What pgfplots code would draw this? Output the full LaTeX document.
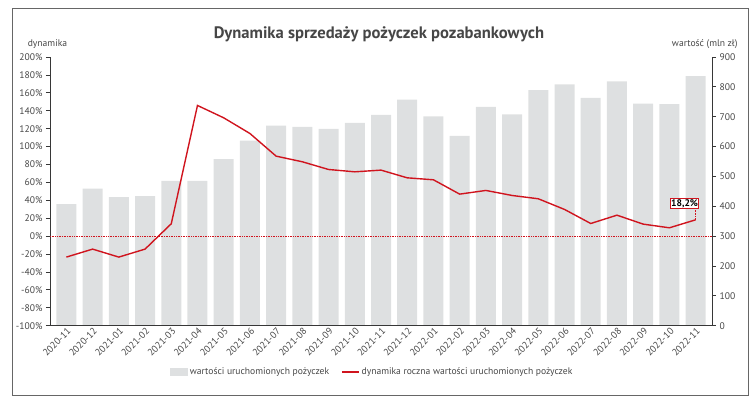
\documentclass[border=0pt]{standalone}
\usepackage{fontspec}
\setmainfont{PT Sans}
\usepackage{pgfplots}
\pgfplotsset{compat=1.18}
\definecolor{barc}{RGB}{222,224,225}
\definecolor{redl}{RGB}{208,20,30}
\definecolor{txt}{RGB}{70,70,70}
\definecolor{axc}{RGB}{55,55,55}
\newcommand{\tickfont}{\fontsize{9.6}{11}\selectfont}
\begin{document}
\begin{tikzpicture}[x=1pt,y=1pt]
\path[use as bounding box] (0,0) rectangle (756,406);
\draw[gray!80!black, line width=0.9pt] (12,10.3) rectangle (748,398);
\node[font=\bfseries\fontsize{16.6}{19}\selectfont, text=txt] at (379,372) {Dynamika sprzedaży pożyczek pozabankowych};
\node[font=\tickfont, text=txt] at (47.5,362) {dynamika};
\node[font=\tickfont, text=txt, anchor=east] at (741,362) {wartość (mln zł)};

\begin{axis}[
  at={(50pt,80.3pt)}, anchor=south west,
  scale only axis, width=662pt, height=268.7pt,
  xmin=-0.625, xmax=24.625, ymin=0, ymax=900,
  axis x line=none, axis y line*=right,
  ytick={0,100,...,900},
  yticklabel={\pgfmathprintnumber[assume math mode=true]{\tick}},
  yticklabel style={font=\tickfont, text=txt},
  y axis line style={axc, line width=0.8pt},
  ytick style={axc, line width=0.8pt},
  major tick length=4pt, tick align=outside,
]
\addplot[ybar, bar width=20pt, bar shift=0pt, fill=barc, draw=none] coordinates {
(0,407) (1,459) (2,431) (3,434) (4,485) (5,485) (6,558) (7,620) (8,670) (9,666)
(10,659) (11,679) (12,706) (13,757) (14,701) (15,636) (16,733) (17,708) (18,789)
(19,808) (20,763) (21,818) (22,744) (23,742) (24,836)};
\end{axis}

\begin{axis}[
  at={(50pt,80.3pt)}, anchor=south west,
  scale only axis, width=662pt, height=268.7pt,
  xmin=-0.625, xmax=24.625, ymin=-100, ymax=200,
  axis y line*=left, axis x line*=bottom,
  ytick={-100,-80,...,200},
  yticklabel={\pgfmathprintnumber[assume math mode=true]{\tick}\%},
  yticklabel style={font=\tickfont, text=txt},
  xtick={0,...,24},
  xticklabels={2020-11,2020-12,2021-01,2021-02,2021-03,2021-04,2021-05,2021-06,2021-07,2021-08,2021-09,2021-10,2021-11,2021-12,2022-01,2022-02,2022-03,2022-04,2022-05,2022-06,2022-07,2022-08,2022-09,2022-10,2022-11},
  xticklabel style={font=\tickfont, text=txt, rotate=45, anchor=east, xshift=3pt, yshift=-2pt, inner sep=1pt},
  xtick style={draw=none},
  axis line style={axc, line width=0.8pt},
  ytick style={axc, line width=0.8pt},
  major tick length=4pt, tick align=outside,
  legend style={at={(0.487,-0.172)}, anchor=center, draw=none, fill=none,
    legend columns=2, font=\tickfont, text=txt,
    /tikz/every even column/.append style={column sep=10pt}},
]
\addplot[redl, densely dotted, line width=0.7pt, forget plot] coordinates {(-0.625,0) (24.625,0)};
\addlegendimage{legend image code/.code={\fill[barc] (0pt,-3.5pt) rectangle (17pt,3.5pt);}}
\addlegendentry{wartości uruchomionych pożyczek}
\addplot[redl, line width=1.4pt] coordinates {
(0,-23.4) (1,-14.5) (2,-23.4) (3,-14.5) (4,13.8) (5,145.9) (6,132.1) (7,114.6) (8,89.3)
(9,83) (10,74.4) (11,71.8) (12,73.7) (13,65.1) (14,62.9) (15,46.9) (16,51) (17,45.4)
(18,41.7) (19,29.8) (20,14.1) (21,23.4) (22,13.4) (23,9.3) (24,18.2)};
\addlegendentry{dynamika roczna wartości uruchomionych pożyczek}
\draw[redl, densely dotted, line width=0.6pt] (axis cs:24,18.2) -- ++(0pt,11pt);
\node[draw=redl, fill=white, line width=0.8pt, font=\bfseries\fontsize{9.6}{10}\selectfont, inner sep=0.8pt, text=black] at (axis cs:24,18.2) [xshift=-11pt, yshift=16.4pt] {18,2\%};
\end{axis}
\end{tikzpicture}
\end{document}
